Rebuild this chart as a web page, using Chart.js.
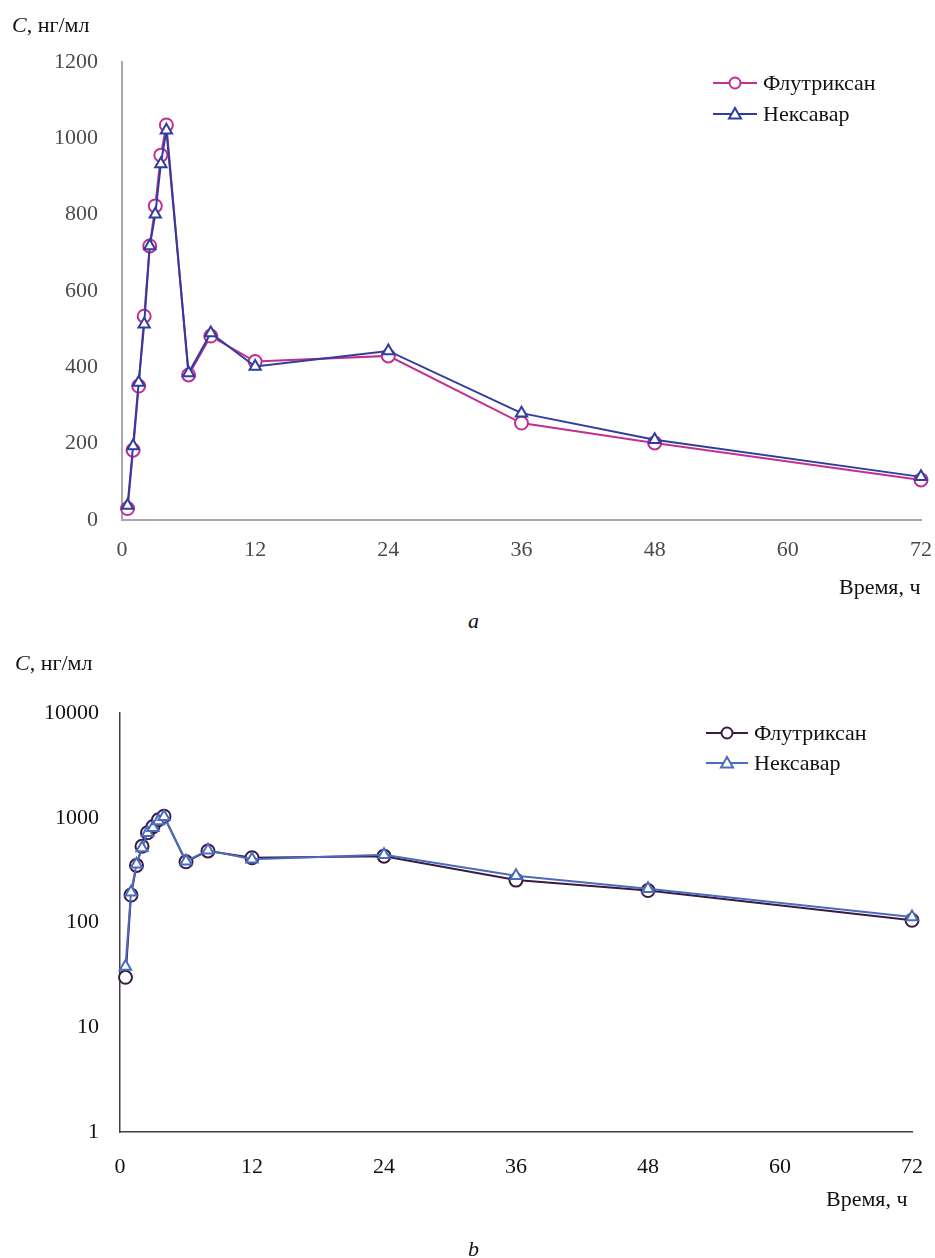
<!DOCTYPE html>
<html>
<head>
<meta charset="utf-8">
<script src="https://cdn.jsdelivr.net/npm/chart.js@4.4.1/dist/chart.umd.min.js"></script>
<style>
    html, body { margin: 0; padding: 0; background: #fff; }
    body { width: 935px; height: 1258px; position: relative; overflow: hidden;
           font-family: 'Liberation Serif', 'Times New Roman', serif; color: #111; }
    .box   { position: absolute; left: 0; width: 935px; height: 600px; }
    .lbl   { position: absolute; font-size: 22px; line-height: 1; white-space: nowrap; }
    .lbl i { font-style: italic; }
</style>
</head>
<body>

<div class="box" style="top:0"><canvas id="chart-linear" width="935" height="600"></canvas></div>
<div class="box" style="top:640px"><canvas id="chart-log" width="935" height="600"></canvas></div>

<div class="lbl" style="left:12px; top:14px"><i>C</i>, нг/мл</div>
<div class="lbl" style="left:839px; top:576px">Время, ч</div>
<div class="lbl" style="left:468px; top:610px"><i>a</i></div>

<div class="lbl" style="left:15px; top:652px"><i>C</i>, нг/мл</div>
<div class="lbl" style="left:826px; top:1188px">Время, ч</div>
<div class="lbl" style="left:468px; top:1238px"><i>b</i></div>

<script>
// ── Данные: концентрация (нг/мл) по времени (ч) ───────────────────────────────
const times      = [0.5, 1, 1.5, 2, 2.5, 3, 3.5, 4, 6, 8, 12, 24, 36, 48, 72];
const fluValues  = [30, 183, 351, 534, 718, 823, 956, 1035, 380, 482, 415, 430, 254, 202, 105];
const nexValues  = [38, 194, 360, 513, 718, 801, 933, 1021, 385, 490, 402, 443, 280, 210, 113];
const seriesNames = ['Флутриксан', 'Нексавар'];

const xTicks      = [0, 12, 24, 36, 48, 60, 72];
const linearTicks = [0, 200, 400, 600, 800, 1000, 1200];
const logTicks    = [1, 10, 100, 1000, 10000];

const FONT = "'Liberation Serif', 'Times New Roman', serif";

const toPoints = vals => times.map((t, i) => ({ x: t, y: vals[i] }));

// Легенда: отрезок линии + маркер + подпись
const lineLegendPlugin = {
    id: 'lineLegend',
    afterDraw(chart, args, opts) {
        const { ctx } = chart;
        ctx.save();
        chart.data.datasets.slice().sort((a, b) => a.legendIndex - b.legendIndex).forEach((ds, k) => {
            const y  = opts.y + k * opts.gap;
            const cx = (opts.x0 + opts.x1) / 2;
            ctx.strokeStyle = ds.borderColor;
            ctx.lineWidth   = 2;
            ctx.beginPath(); ctx.moveTo(opts.x0, y); ctx.lineTo(opts.x1, y); ctx.stroke();
            ctx.fillStyle = '#fff';
            ctx.beginPath();
            if (ds.pointStyle === 'circle') {
                ctx.arc(cx, y, 5.5, 0, Math.PI * 2);
            } else {
                ctx.moveTo(cx, y - 6); ctx.lineTo(cx + 6, y + 4.5); ctx.lineTo(cx - 6, y + 4.5); ctx.closePath();
            }
            ctx.fill(); ctx.stroke();
            ctx.fillStyle    = '#111';
            ctx.font         = `22px ${FONT}`;
            ctx.textAlign    = 'left';
            ctx.textBaseline = 'middle';
            ctx.fillText(ds.label, opts.x1 + 6, y + 1);
        });
        ctx.restore();
    }
};

function makeDataset(label, values, color, style, order, legendIndex) {
    return {
        label,
        data: toPoints(values),
        borderColor: color,
        backgroundColor: '#ffffff',
        pointBackgroundColor: '#ffffff',
        pointBorderColor: color,
        pointBorderWidth: 2,
        pointRadius: 6.5,
        pointStyle: style,
        borderWidth: 2,
        tension: 0,
        clip: false,
        order,
        legendIndex
    };
}

function buildChart(id, cfg) {
    return new Chart(document.getElementById(id).getContext('2d'), {
        type: 'line',
        plugins: [lineLegendPlugin],
        data: {
            datasets: [
                makeDataset(seriesNames[0], fluValues, cfg.colors[0], 'circle',   1, 0),
                makeDataset(seriesNames[1], nexValues, cfg.colors[1], 'triangle', 0, 1)
            ]
        },
        options: {
            responsive: false,
            animation: false,
            layout: { padding: cfg.padding },
            plugins: {
                legend:  { display: false },
                tooltip: { enabled: false },
                lineLegend: cfg.legend
            },
            scales: {
                x: {
                    type: 'linear', min: 0, max: 72,
                    afterBuildTicks: s => { s.ticks = xTicks.map(v => ({ value: v })); },
                    afterFit: s => { s.height = cfg.xHeight; s.paddingLeft = 0; s.paddingRight = 0; },
                    grid:   { display: false, drawTicks: false },
                    border: { color: cfg.axisColor, width: cfg.axisWidth },
                    ticks:  { color: cfg.tickColor, font: { family: FONT, size: 22 }, padding: cfg.xPad,
                              maxRotation: 0, callback: v => String(v) }
                },
                y: cfg.y
            }
        }
    });
}

// a — линейная шкала
buildChart('chart-linear', {
    colors: ['#c2308f', '#2f3d9f'],
    padding: { top: 62, right: 14, left: 0, bottom: 0 },
    xHeight: 80,
    xPad: 17,
    axisColor: '#a8a8a8',
    axisWidth: 2,
    tickColor: '#4a4a4a',
    legend: { x0: 713, x1: 757, y: 83, gap: 31 },
    y: {
        type: 'linear', min: 0, max: 1200,
        afterBuildTicks: s => { s.ticks = linearTicks.map(v => ({ value: v })); },
        afterFit: s => { s.width = 122; },
        grid:   { display: false, drawTicks: false },
        border: { color: '#a8a8a8', width: 2 },
        ticks:  { color: '#4a4a4a', font: { family: FONT, size: 22 }, padding: 24, callback: v => String(v) }
    }
});

// b — логарифмическая шкала
buildChart('chart-log', {
    colors: ['#3b1a40', '#4a6bc0'],
    padding: { top: 73, right: 23, left: 0, bottom: 0 },
    xHeight: 108,
    xPad: 22,
    axisColor: '#404040',
    axisWidth: 1.5,
    tickColor: '#111',
    legend: { x0: 706, x1: 748, y: 93, gap: 30 },
    y: {
        type: 'logarithmic', min: 1, max: 10000,
        afterBuildTicks: s => { s.ticks = logTicks.map(v => ({ value: v })); },
        afterFit: s => { s.width = 120; },
        grid:   { display: false, drawTicks: false },
        border: { color: '#404040', width: 1.5 },
        ticks:  { color: '#111', font: { family: FONT, size: 22 }, padding: 21, callback: v => String(v) }
    }
});
</script>
</body>
</html>
